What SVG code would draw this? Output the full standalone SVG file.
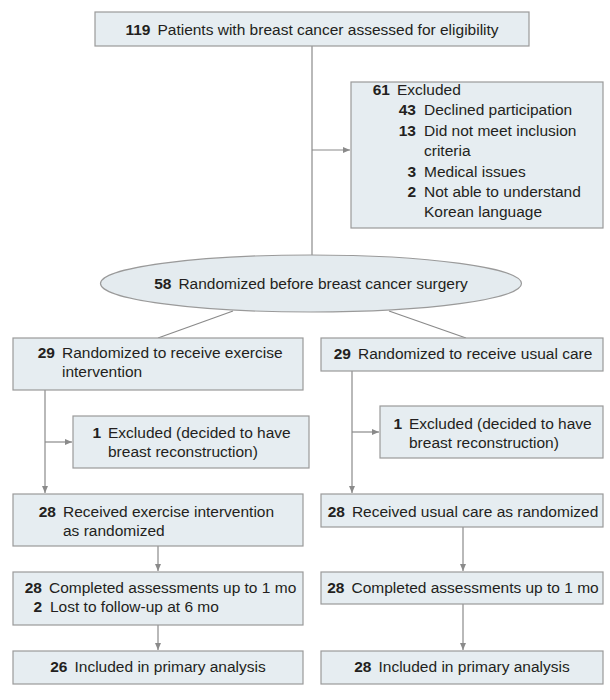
<svg xmlns="http://www.w3.org/2000/svg" width="610" height="700" viewBox="0 0 610 700">
<defs>
<marker id="ah" markerUnits="userSpaceOnUse" markerWidth="8" markerHeight="8" refX="7" refY="3" orient="auto">
<path d="M0,0 L7,3 L0,6 z" fill="#8a8a8a"/>
</marker>
<style>
.box{fill:#e6edf1;stroke:#9a9a9a;stroke-width:1.2}
.t{font-family:"Liberation Sans",Arial,sans-serif;font-size:15.5px;fill:#231f20}
.m{text-anchor:middle}
.b{font-weight:bold}
.n{font-family:"Liberation Sans",Arial,sans-serif;font-size:15.5px;font-weight:bold;fill:#231f20;text-anchor:end}
.c{fill:none;stroke:#8a8a8a;stroke-width:1.2}
.a{fill:none;stroke:#8a8a8a;stroke-width:1.2;marker-end:url(#ah)}
</style>
</defs>
<rect width="610" height="700" fill="#ffffff"/>

<g id="connectors">
<line class="c" x1="312" y1="46" x2="312" y2="255"/>
<line class="a" x1="312" y1="150" x2="350" y2="150"/>
<line class="c" x1="233" y1="311" x2="158" y2="338"/>
<line class="c" x1="389" y1="311" x2="466" y2="338"/>
<line class="a" x1="45" y1="390" x2="45" y2="493"/>
<line class="a" x1="45" y1="442" x2="72" y2="442"/>
<line class="a" x1="352" y1="371" x2="352" y2="493"/>
<line class="a" x1="352" y1="432" x2="379" y2="432"/>
<line class="a" x1="158" y1="546" x2="158" y2="571"/>
<line class="a" x1="463" y1="527" x2="463" y2="571"/>
<line class="a" x1="158" y1="625" x2="158" y2="650"/>
<line class="a" x1="463" y1="604" x2="463" y2="650"/>
</g>

<g id="assessed">
<rect class="box" x="95" y="12" width="434" height="34"/>
<text class="t m" x="312" y="35"><tspan class="b">119</tspan><tspan dx="7">Patients with breast cancer assessed for eligibility</tspan></text>
</g>

<g id="excluded">
<rect class="box" x="351" y="82" width="252" height="146"/>
<text class="n" x="390" y="95">61</text>
<text class="t" x="397" y="95">Excluded</text>
<text class="n" x="416" y="115">43</text>
<text class="t" x="424" y="115">Declined participation</text>
<text class="n" x="416" y="136">13</text>
<text class="t" x="424" y="136">Did not meet inclusion</text>
<text class="t" x="424" y="156">criteria</text>
<text class="n" x="416" y="177">3</text>
<text class="t" x="424" y="177">Medical issues</text>
<text class="n" x="416" y="197">2</text>
<text class="t" x="424" y="197">Not able to understand</text>
<text class="t" x="424" y="217">Korean language</text>
</g>

<g id="randomized">
<ellipse cx="311" cy="283.5" rx="210.5" ry="28.5" fill="#e4ebef" stroke="#9a9a9a" stroke-width="1.2"/>
<text class="t m" x="311" y="289"><tspan class="b">58</tspan><tspan dx="7">Randomized before breast cancer surgery</tspan></text>
</g>

<g id="exercise-randomized">
<rect class="box" x="13" y="338" width="290" height="52"/>
<text class="n" x="55" y="358">29</text>
<text class="t" x="62" y="358">Randomized to receive exercise</text>
<text class="t" x="62" y="377">intervention</text>
</g>

<g id="usual-randomized">
<rect class="box" x="321" y="338" width="282" height="33"/>
<text class="t m" x="463" y="359"><tspan class="b">29</tspan><tspan dx="7">Randomized to receive usual care</tspan></text>
</g>

<g id="exercise-excluded">
<rect class="box" x="73" y="416" width="236" height="52"/>
<text class="n" x="101" y="438">1</text>
<text class="t" x="108" y="438">Excluded (decided to have</text>
<text class="t" x="108" y="457">breast reconstruction)</text>
</g>

<g id="usual-excluded">
<rect class="box" x="380" y="406" width="223" height="52"/>
<text class="n" x="402" y="429">1</text>
<text class="t" x="409" y="429">Excluded (decided to have</text>
<text class="t" x="409" y="448">breast reconstruction)</text>
</g>

<g id="exercise-received">
<rect class="box" x="13" y="494" width="290" height="52"/>
<text class="n" x="56" y="517">28</text>
<text class="t" x="63" y="517">Received exercise intervention</text>
<text class="t" x="63" y="536">as randomized</text>
</g>

<g id="usual-received">
<rect class="box" x="321" y="494" width="282" height="33"/>
<text class="t m" x="463" y="517"><tspan class="b">28</tspan><tspan dx="7">Received usual care as randomized</tspan></text>
</g>

<g id="exercise-completed">
<rect class="box" x="13" y="572" width="290" height="53"/>
<text class="n" x="42" y="593">28</text>
<text class="t" x="49" y="593">Completed assessments up to 1 mo</text>
<text class="n" x="42" y="612">2</text>
<text class="t" x="50" y="612">Lost to follow-up at 6 mo</text>
</g>

<g id="usual-completed">
<rect class="box" x="321" y="572" width="282" height="32"/>
<text class="t m" x="463" y="593"><tspan class="b">28</tspan><tspan dx="7">Completed assessments up to 1 mo</tspan></text>
</g>

<g id="exercise-analysis">
<rect class="box" x="13" y="651" width="290" height="33"/>
<text class="t m" x="158" y="672"><tspan class="b">26</tspan><tspan dx="7">Included in primary analysis</tspan></text>
</g>

<g id="usual-analysis">
<rect class="box" x="321" y="651" width="282" height="33"/>
<text class="t m" x="462" y="672"><tspan class="b">28</tspan><tspan dx="7">Included in primary analysis</tspan></text>
</g>
</svg>
